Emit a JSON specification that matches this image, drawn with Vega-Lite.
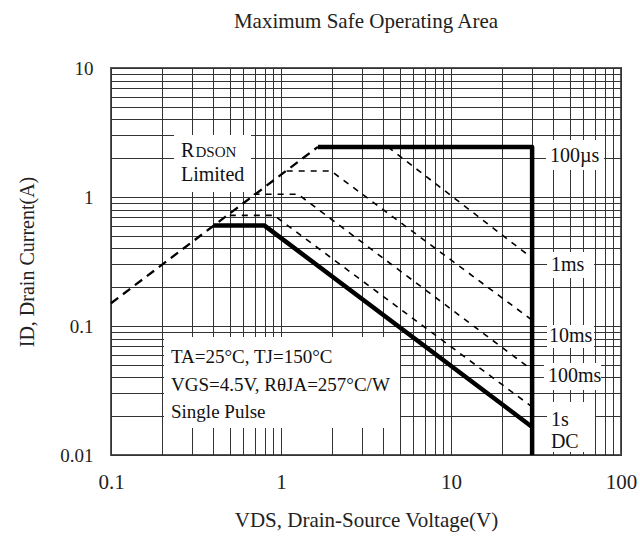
{
  "$schema": "https://vega.github.io/schema/vega-lite/v6.json",
  "width": 510,
  "height": 387,
  "autosize": {"type": "none"},
  "padding": {"left": 111, "top": 68, "right": 19, "bottom": 81},
  "background": "white",
  "title": {"text": "Maximum Safe Operating Area", "fontSize": 21, "font": "Liberation Serif", "fontWeight": "normal", "color": "#222", "offset": 27},
  "config": {"view": {"stroke": "#555", "strokeWidth": 2}},
  "datasets": {
    "curves": [
      {"series": "100µs", "i": 0, "x": 1.65, "y": 2.44},
      {"series": "100µs", "i": 1, "x": 30, "y": 2.44},
      {"series": "100µs", "i": 2, "x": 30, "y": 0.01},
      {"series": "DC", "i": 0, "x": 0.4, "y": 0.6},
      {"series": "DC", "i": 1, "x": 0.8, "y": 0.6},
      {"series": "DC", "i": 2, "x": 30, "y": 0.0165},
      {"series": "RDSON", "i": 0, "x": 0.1, "y": 0.15},
      {"series": "RDSON", "i": 1, "x": 1.65, "y": 2.45},
      {"series": "1ms", "i": 0, "x": 4.26, "y": 2.44},
      {"series": "1ms", "i": 1, "x": 30, "y": 0.336},
      {"series": "10ms", "i": 0, "x": 1.08, "y": 1.59},
      {"series": "10ms", "i": 1, "x": 1.97, "y": 1.59},
      {"series": "10ms", "i": 2, "x": 30, "y": 0.111},
      {"series": "100ms", "i": 0, "x": 0.69, "y": 1.05},
      {"series": "100ms", "i": 1, "x": 1.26, "y": 1.05},
      {"series": "100ms", "i": 2, "x": 30, "y": 0.0456},
      {"series": "1s", "i": 0, "x": 0.5, "y": 0.72},
      {"series": "1s", "i": 1, "x": 0.91, "y": 0.72},
      {"series": "1s", "i": 2, "x": 30, "y": 0.0236}
    ],
    "boxes": [
      {"name": "rdson", "x": 0.2348, "x2": 0.666, "y": 1.093, "y2": 3.024},
      {"name": "cond", "x": 0.205, "x2": 5.01, "y": 0.0162, "y2": 0.0822},
      {"name": "100µs", "x": 36.2, "x2": 79.4, "y": 1.62, "y2": 2.77},
      {"name": "1ms", "x": 36.7, "x2": 69.4, "y": 0.2356, "y2": 0.3748},
      {"name": "10ms", "x": 36.7, "x2": 69.4, "y": 0.0675, "y2": 0.1018},
      {"name": "100ms", "x": 35.2, "x2": 76.3, "y": 0.0319, "y2": 0.0517},
      {"name": "1s-DC", "x": 36.7, "x2": 70.3, "y": 0.01055, "y2": 0.02576}
    ],
    "labels": [
      {"text": "Limited", "x": 0.258, "y": 1.481},
      {"text": "100µs", "x": 38.2, "y": 2.078},
      {"text": "1ms", "x": 38.7, "y": 0.2971},
      {"text": "10ms", "x": 37.7, "y": 0.0836},
      {"text": "100ms", "x": 37.2, "y": 0.041},
      {"text": "1s", "x": 38.7, "y": 0.01868},
      {"text": "DC", "x": 38.7, "y": 0.01261}
    ],
    "bigletters": [
      {"text": "R", "x": 0.258, "y": 2.314}
    ],
    "smallcaps": [
      {"text": "DSON", "x": 0.314, "y": 2.314}
    ],
    "conditions": [
      {"text": "TA=25°C, TJ=150°C", "x": 0.2254, "y": 0.0575},
      {"text": "VGS=4.5V, RθJA=257°C/W", "x": 0.2254, "y": 0.0349},
      {"text": "Single Pulse", "x": 0.2254, "y": 0.02154}
    ]
  },
  "encoding": {
    "x": {
      "field": "x", "type": "quantitative",
      "scale": {"type": "log", "domain": [0.1, 100], "nice": false},
      "axis": {
        "values": [0.1, 0.2, 0.3, 0.4, 0.5, 0.6, 0.7, 0.8, 0.9, 1, 2, 3, 4, 5, 6, 7, 8, 9, 10, 20, 30, 40, 50, 60, 70, 80, 90, 100],
        "labelExpr": "datum.value == 0.1 || datum.value == 1 || datum.value == 10 || datum.value == 100 ? datum.value + '' : ''",
        "grid": true, "gridColor": "#333", "gridWidth": 1, "gridOpacity": 1,
        "ticks": false, "tickSize": 0, "domain": false,
        "labelFont": "Liberation Serif", "labelFontSize": 21, "labelColor": "#222", "labelPadding": 16,
        "labelFlush": false, "labelOverlap": false,
        "title": "VDS, Drain-Source Voltage(V)",
        "titleFont": "Liberation Serif", "titleFontSize": 21, "titleFontWeight": "normal", "titleColor": "#222", "titlePadding": 17
      }
    },
    "y": {
      "field": "y", "type": "quantitative",
      "scale": {"type": "log", "domain": [0.01, 10], "nice": false},
      "axis": {
        "values": [0.01, 0.02, 0.03, 0.04, 0.05, 0.06, 0.07, 0.08, 0.09, 0.1, 0.2, 0.3, 0.4, 0.5, 0.6, 0.7, 0.8, 0.9, 1, 2, 3, 4, 5, 6, 7, 8, 9, 10],
        "labelExpr": "datum.value == 0.01 || datum.value == 0.1 || datum.value == 1 || datum.value == 10 ? datum.value + '' : ''",
        "grid": true, "gridColor": "#333", "gridWidth": 1, "gridOpacity": 1,
        "ticks": false, "tickSize": 0, "domain": false,
        "labelFont": "Liberation Serif", "labelFontSize": 19, "labelColor": "#222", "labelPadding": 18,
        "labelFlush": false, "labelOverlap": false,
        "title": "ID, Drain Current(A)",
        "titleFont": "Liberation Serif", "titleFontSize": 20, "titleFontWeight": "normal", "titleColor": "#222", "titlePadding": 22
      }
    }
  },
  "layer": [
    {
      "data": {"name": "boxes"},
      "mark": {"type": "rect", "fill": "white", "stroke": null},
      "encoding": {"x2": {"field": "x2"}, "y2": {"field": "y2"}}
    },
    {
      "data": {"name": "curves"},
      "transform": [{"filter": {"field": "series", "oneOf": ["1ms", "10ms", "100ms", "1s"]}}],
      "mark": {"type": "line", "color": "black", "strokeWidth": 1.6, "strokeDash": [6, 6]},
      "encoding": {"detail": {"field": "series"}, "order": {"field": "i"}}
    },
    {
      "data": {"name": "curves"},
      "transform": [{"filter": {"field": "series", "equal": "RDSON"}}],
      "mark": {"type": "line", "color": "black", "strokeWidth": 2.3, "strokeDash": [9, 6]},
      "encoding": {"detail": {"field": "series"}, "order": {"field": "i"}}
    },
    {
      "data": {"name": "curves"},
      "transform": [{"filter": {"field": "series", "oneOf": ["100µs", "DC"]}}],
      "mark": {"type": "line", "color": "black", "strokeWidth": 4.5, "strokeJoin": "round", "clip": true},
      "encoding": {"detail": {"field": "series"}, "order": {"field": "i"}}
    },
    {
      "data": {"name": "labels"},
      "mark": {"type": "text", "align": "left", "baseline": "middle", "font": "Liberation Serif", "fontSize": 20, "color": "#111"},
      "encoding": {"text": {"field": "text"}}
    },
    {
      "data": {"name": "bigletters"},
      "mark": {"type": "text", "align": "left", "baseline": "alphabetic", "dy": 7, "font": "Liberation Serif", "fontSize": 20, "color": "#111"},
      "encoding": {"text": {"field": "text"}}
    },
    {
      "data": {"name": "smallcaps"},
      "mark": {"type": "text", "align": "left", "baseline": "alphabetic", "dy": 7, "font": "Liberation Serif", "fontSize": 15, "color": "#111"},
      "encoding": {"text": {"field": "text"}}
    },
    {
      "data": {"name": "conditions"},
      "mark": {"type": "text", "align": "left", "baseline": "middle", "font": "Liberation Serif", "fontSize": 19, "color": "#111"},
      "encoding": {"text": {"field": "text"}}
    }
  ]
}
